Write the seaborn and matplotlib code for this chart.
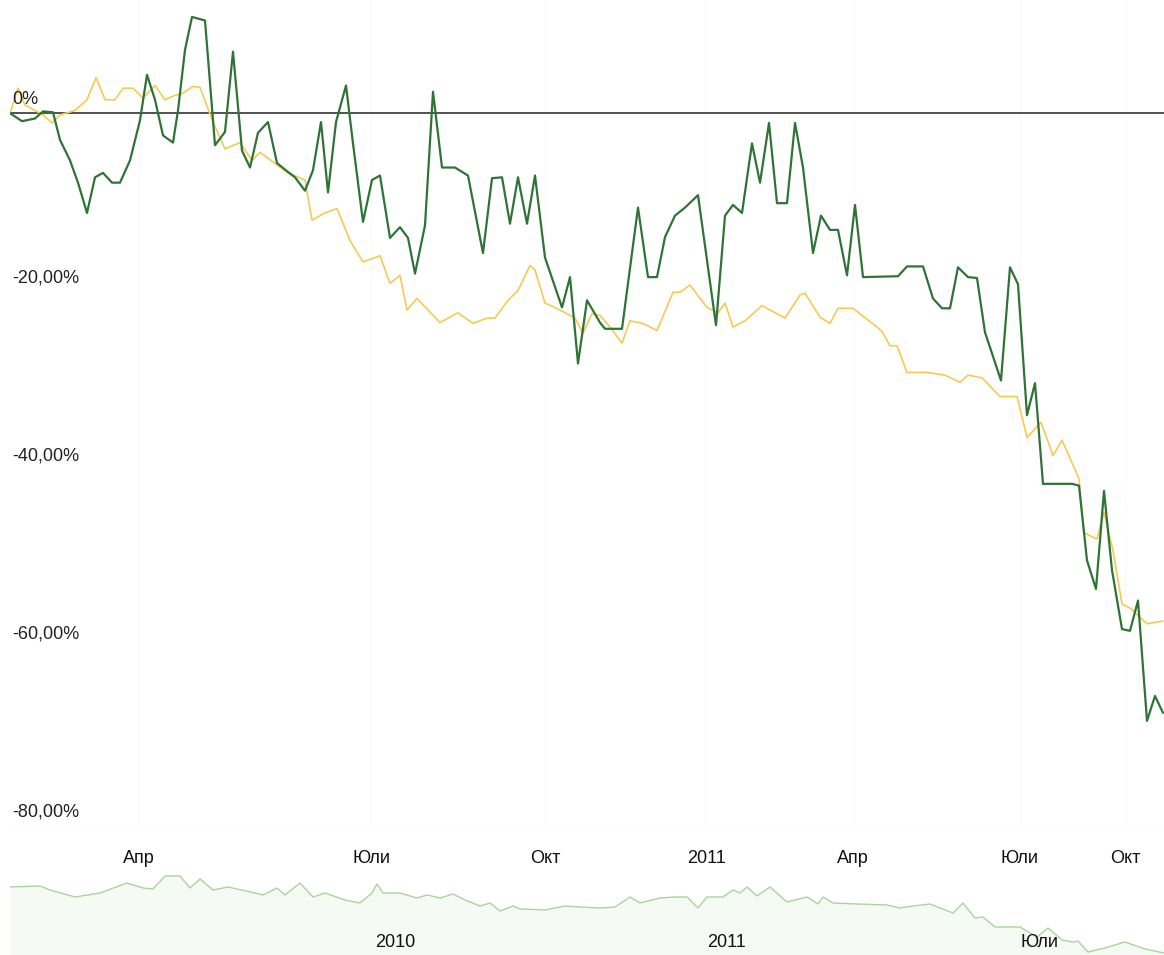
import pandas as pd
import matplotlib.pyplot as plt
import seaborn as sns
import numpy as np

# trading-session position along the time axis (same scale for both series)
green_t = [0, 12, 25, 33, 43, 50, 60, 68, 77, 85, 93, 102, 110, 120, 130, 137, 145, 153, 163, 168,
           175, 182, 195, 205, 215, 223, 232, 240, 248, 258, 267, 278, 285, 295, 303, 311, 318, 326,
           336, 343, 353, 362, 370, 380, 390, 398, 405, 415, 423, 432, 445, 458, 473, 482, 492, 500,
           508, 517, 525, 535, 552, 560, 568, 577, 590, 595, 612, 628, 638, 647, 655, 665, 675, 688,
           706, 715, 723, 732, 742, 750, 759, 767, 777, 785, 793, 803, 811, 820, 828, 837, 845, 853,
           888, 897, 913, 923, 932, 940, 948, 958, 967, 975, 991, 1000, 1008, 1017, 1025, 1033, 1062,
           1069, 1077, 1086, 1094, 1102, 1112, 1120, 1128, 1137, 1145, 1153]
green_pct = [0.0, -0.9, -0.6, 0.2, 0.1, -3.0, -5.3, -7.8, -11.2, -7.2, -6.7, -7.8, -7.8, -5.3, -0.8,
             4.3, 1.5, -2.5, -3.3, 0.3, 7.1, 10.8, 10.4, -3.6, -2.1, 6.9, -4.2, -6.1, -2.2, -1.0, -5.6,
             -6.6, -7.2, -8.7, -6.4, -1.0, -8.9, -1.0, 3.1, -3.4, -12.2, -7.5, -7.0, -14.0, -12.8,
             -14.0, -18.0, -12.6, 2.4, -6.1, -6.1, -7.0, -15.7, -7.3, -7.2, -12.4, -7.2, -12.4, -7.0,
             -16.2, -21.8, -18.4, -28.1, -21.0, -23.5, -24.2, -24.2, -10.6, -18.4, -18.4, -13.9, -11.5,
             -10.6, -9.2, -23.8, -11.5, -10.3, -11.2, -3.4, -7.8, -1.1, -10.1, -10.1, -1.1, -6.1,
             -15.7, -11.5, -13.1, -13.1, -18.2, -10.3, -18.4, -18.3, -17.2, -17.2, -20.8, -21.9,
             -21.9, -17.3, -18.4, -18.5, -24.6, -30.0, -17.3, -19.2, -33.9, -30.3, -41.6, -41.6,
             -41.8, -50.2, -53.4, -42.4, -51.3, -57.9, -58.1, -54.7, -68.2, -65.4, -67.3]

yellow_t = [0, 8, 15, 25, 33, 42, 50, 65, 77, 86, 95, 105, 113, 123, 133, 145, 155, 165, 172, 183,
            190, 203, 215, 230, 242, 250, 267, 278, 295, 302, 315, 327, 340, 353, 370, 380, 390, 397,
            407, 430, 448, 463, 477, 485, 498, 508, 520, 525, 535, 550, 565, 573, 582, 590, 600, 612,
            620, 633, 647, 663, 670, 680, 697, 708, 715, 723, 735, 752, 775, 790, 795, 810, 820, 828,
            843, 852, 867, 872, 880, 887, 897, 917, 935, 950, 958, 972, 990, 1007, 1017, 1031, 1043,
            1052, 1069, 1074, 1087, 1094, 1103, 1112, 1121, 1130, 1137, 1153]
yellow_pct = [0.0, 2.8, 0.9, 0.3, -0.2, -1.1, -0.2, 0.3, 1.5, 4.0, 1.5, 1.5, 2.8, 2.8, 1.7, 3.1, 1.5,
              2.0, 2.2, 3.0, 2.9, -1.0, -4.0, -3.3, -5.3, -4.4, -5.8, -6.7, -7.5, -12.0, -11.2, -10.7,
              -14.3, -16.7, -16.0, -19.1, -18.2, -22.1, -20.8, -23.5, -22.4, -23.6, -23.0, -23.0,
              -21.0, -19.9, -17.1, -17.6, -21.3, -22.1, -23.0, -24.7, -22.5, -22.7, -24.0, -25.8,
              -23.3, -23.6, -24.4, -20.1, -20.1, -19.3, -21.8, -22.4, -21.3, -24.0, -23.3, -21.6,
              -23.0, -20.4, -20.2, -22.9, -23.6, -21.9, -21.9, -22.7, -24.0, -24.5, -26.1, -26.1,
              -29.1, -29.1, -29.4, -30.2, -29.4, -29.7, -31.8, -31.8, -36.4, -34.7, -38.4, -36.7,
              -41.0, -47.1, -47.8, -44.8, -49.1, -55.1, -55.6, -56.6, -57.3, -57.0]

# overview (navigator) strip, longer time span
nav_t = [0, 30, 40, 65, 90, 117, 133, 143, 155, 170, 180, 190, 203, 218, 245, 253, 267, 275, 290,
         303, 315, 335, 350, 362, 367, 373, 390, 407, 417, 430, 443, 455, 470, 480, 490, 503, 510,
         535, 555, 570, 590, 605, 620, 630, 650, 665, 677, 688, 697, 713, 723, 730, 737, 747, 760,
         777, 797, 808, 813, 823, 847, 877, 890, 903, 920, 943, 953, 965, 973, 985, 1010, 1027,
         1038, 1052, 1063, 1068, 1078, 1095, 1115, 1135, 1154]
nav_val = [-1, 0, -4, -11, -7, 3, -2, -3, 10, 10, -2, 7, -4, -1, -7, -9, -2, -9, 3, -11, -7, -14,
           -17, -7, 2, -7, -7, -12, -9, -12, -8, -14, -20, -17, -25, -20, -23, -24, -20, -21, -22,
           -21, -11, -17, -12, -11, -11, -22, -11, -11, -4, -7, -1, -10, -1, -16, -11, -18, -11, -17,
           -18, -19, -22, -20, -18, -27, -17, -32, -31, -41, -41, -51, -42, -54, -56, -55, -66, -62,
           -56, -63, -67]

y_ticks = [0, -20, -40, -60, -80]
y_labels = ["0%", "-20,00%", "-40,00%", "-60,00%", "-80,00%"]
month_pos = [129, 361, 535, 696, 843, 1010, 1115]
month_labels = ["Апр", "Юли", "Окт", "2011", "Апр", "Юли", "Окт"]
nav_label_pos = [385, 717, 1030]
nav_labels = ["2010", "2011", "Юли"]

df_green = pd.DataFrame({"t": green_t, "pct": green_pct})
df_yellow = pd.DataFrame({"t": yellow_t, "pct": yellow_pct})
df_nav = pd.DataFrame({"t": nav_t, "v": nav_val})

sns.set_style("white")
plt.rcParams["font.family"] = ["Liberation Sans", "DejaVu Sans"]

fig = plt.figure(figsize=(11.64, 9.55), dpi=100)
W, H = 1164, 955
ax = fig.add_axes([10 / W, 1 - 826 / H, 1154 / W, 826 / H])
ax_nav = fig.add_axes([10 / W, 0, 1154 / W, 87 / H])

# barely visible vertical grid at month marks
for p in month_pos:
    ax.axvline(p, color="#fafafa", linewidth=1, zorder=0)
ax.axhline(0, color="#333333", linewidth=1.2, zorder=1)
ax.axhline(-80, color="#ececec", linewidth=1, zorder=1)

sns.lineplot(data=df_yellow, x="t", y="pct", ax=ax, color="#f6ca52", linewidth=1.2,
             sort=False, estimator=None, zorder=2)
sns.lineplot(data=df_green, x="t", y="pct", ax=ax, color="#2f7436", linewidth=1.6,
             sort=False, estimator=None, zorder=3)

ax.set_xlim(0, 1154)
ax.set_ylim(-80, 12.7)
ax.set_yticks([])
ax.set_xticks(month_pos)
ax.set_xticklabels(month_labels, fontsize=13, color="#111111")
ax.tick_params(axis="x", length=0, pad=17)
ax.set_xlabel("")
ax.set_ylabel("")
for s in ax.spines.values():
    s.set_visible(False)

ytr = ax.get_yaxis_transform()
for v, lab in zip(y_ticks, y_labels):
    ax.text(0.002, v + 0.6, lab, transform=ytr, fontsize=13, color="#222222",
            ha="left", va="bottom")

# navigator strip
sns.lineplot(data=df_nav, x="t", y="v", ax=ax_nav, color="#a9d59b", linewidth=1.0,
             sort=False, estimator=None)
ax_nav.fill_between(nav_t, nav_val, -69, color="#f6faf5", zorder=0)
ax_nav.set_xlim(0, 1154)
ax_nav.set_ylim(-69, 18)
ax_nav.set_xticks([])
ax_nav.set_yticks([])
ax_nav.set_xlabel("")
ax_nav.set_ylabel("")
for s in ax_nav.spines.values():
    s.set_visible(False)
xtr = ax_nav.get_xaxis_transform()
for p, lab in zip(nav_label_pos, nav_labels):
    ax_nav.text(p, 0.14, lab, transform=xtr, fontsize=13, color="#111111",
                ha="center", va="center")

fig.savefig("out.png", dpi=100)
